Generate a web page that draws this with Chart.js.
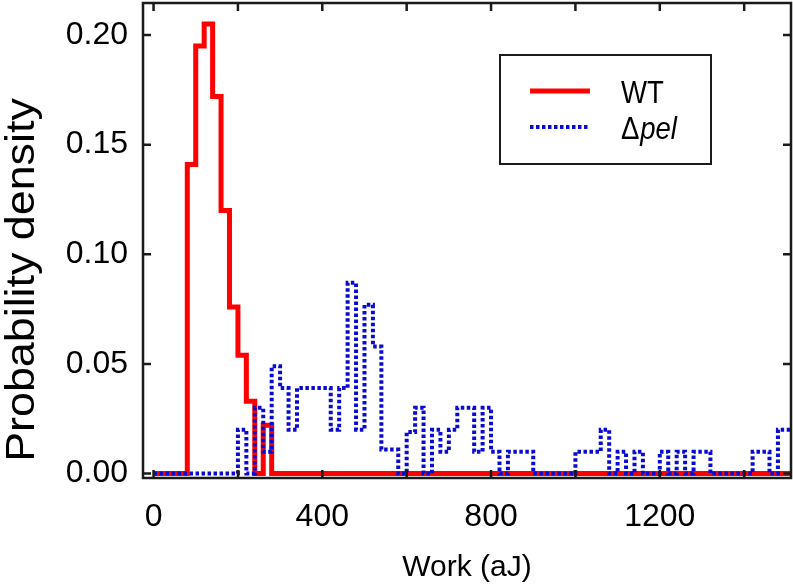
<!DOCTYPE html>
<html>
<head>
<meta charset="utf-8">
<script src="https://cdn.jsdelivr.net/npm/chart.js@4.4.1/dist/chart.umd.min.js"></script>
<style>
  html, body { margin: 0; padding: 0; background: #fff; }
  #wrap { width: 793px; height: 585px; }
</style>
</head>
<body>
<div id="wrap"><canvas id="myChart" width="793" height="585"></canvas></div>
<script>
// histogram bins are 20 aJ wide, first bin starts at 0 aJ
const binStart = 0
const binWidth = 20
const xEnd = 1511

// WT, probability density per bin
const wtDensity = [
    0, 0, 0, 0, 0.141, 0.195, 0.205, 0.172, 0.120, 0.076,
    0.054, 0.033, 0, 0.022, 0, 0, 0, 0, 0, 0,
    0, 0, 0, 0, 0, 0, 0, 0, 0, 0,
    0, 0, 0, 0, 0, 0, 0, 0, 0, 0,
    0, 0, 0, 0, 0, 0, 0, 0, 0, 0,
    0, 0, 0, 0, 0, 0, 0, 0, 0, 0,
    0, 0, 0, 0, 0, 0, 0, 0, 0, 0,
    0, 0, 0, 0, 0, 0,
]

// delta pel, probability density per bin
const pelDensity = [
    0, 0, 0, 0, 0, 0, 0, 0, 0, 0,
    0.020, 0, 0.030, 0.010, 0.049, 0.039, 0.020, 0.039, 0.039, 0.039,
    0.039, 0.020, 0.039, 0.087, 0.020, 0.077, 0.058, 0.011, 0.011, 0,
    0.019, 0.030, 0, 0.020, 0.010, 0.020, 0.030, 0.030, 0.010, 0.030,
    0.010, 0, 0.010, 0.010, 0.010, 0, 0, 0, 0, 0,
    0.010, 0.010, 0.010, 0.020, 0, 0.010, 0, 0.010, 0, 0,
    0.010, 0, 0.010, 0, 0.010, 0.010, 0, 0, 0, 0,
    0, 0.010, 0.010, 0, 0.020, 0.020,
]

const xTicks = [0, 200, 400, 600, 800, 1000, 1200, 1400]
const xTickLabels = ['0', '', '400', '', '800', '', '1200', '']
const yTicks = [0, 0.05, 0.10, 0.15, 0.20]
const yTickLabels = ['0.00', '0.05', '0.10', '0.15', '0.20']
const yTitle = 'Probability density'

const FONT_FAMILY = '"Liberation Sans", Arial, sans-serif'

function stepPoints(values) {
    const pts = values.map((v, i) => ({ x: binStart + i * binWidth, y: v }))
    pts.push({ x: xEnd, y: values[values.length - 1] })
    return pts
}

// box around the plot with inward ticks on all four sides
const framePlugin = {
    id: 'frame',
    afterDatasetsDraw(chart) {
        const { ctx, chartArea: a, scales } = chart
        const len = 8
        ctx.save()
        ctx.strokeStyle = '#1a1a1a'
        ctx.lineWidth = 2.5
        ctx.strokeRect(a.left, a.top, a.right - a.left, a.bottom - a.top)
        ctx.beginPath()
        xTicks.forEach(v => {
            const px = scales.x.getPixelForValue(v)
            ctx.moveTo(px, a.bottom); ctx.lineTo(px, a.bottom - len)
            ctx.moveTo(px, a.top); ctx.lineTo(px, a.top + len)
        })
        yTicks.forEach(v => {
            const py = scales.y.getPixelForValue(v)
            ctx.moveTo(a.left, py); ctx.lineTo(a.left + len, py)
            ctx.moveTo(a.right, py); ctx.lineTo(a.right - len, py)
        })
        ctx.stroke()
        ctx.restore()
    },
}

// the y title in the figure is drawn large and runs along most of the axis
const yTitlePlugin = {
    id: 'yTitle',
    afterDraw(chart) {
        const { ctx } = chart
        ctx.save()
        ctx.translate(23, 280)
        ctx.rotate(-Math.PI / 2)
        ctx.scale(1.12, 1)
        ctx.font = '40px ' + FONT_FAMILY
        ctx.fillStyle = '#000'
        ctx.textAlign = 'center'
        ctx.textBaseline = 'middle'
        ctx.fillText(yTitle, 0, 0)
        ctx.restore()
    },
}

// boxed legend inside the plot, Δ upright and "pel" in italics
const legendPlugin = {
    id: 'boxLegend',
    afterDraw(chart) {
        const { ctx } = chart
        const ds = chart.data.datasets
        ctx.save()
        ctx.fillStyle = '#fff'
        ctx.fillRect(500, 55, 211, 109)
        ctx.strokeStyle = '#1a1a1a'
        ctx.lineWidth = 2
        ctx.strokeRect(500, 55, 211, 109)

        ctx.lineWidth = ds[0].borderWidth
        ctx.strokeStyle = ds[0].borderColor
        ctx.beginPath(); ctx.moveTo(530, 91); ctx.lineTo(590, 91); ctx.stroke()

        ctx.lineWidth = ds[1].borderWidth
        ctx.strokeStyle = ds[1].borderColor
        ctx.setLineDash(ds[1].borderDash)
        ctx.beginPath(); ctx.moveTo(530, 127); ctx.lineTo(590, 127); ctx.stroke()
        ctx.setLineDash([])

        // the lettering in the figure is a little condensed
        ctx.fillStyle = '#000'
        ctx.textBaseline = 'alphabetic'
        ctx.translate(621, 0)
        ctx.scale(0.86, 1)
        ctx.font = '32px ' + FONT_FAMILY
        ctx.fillText('WT', 0, 103)
        ctx.fillText('\u0394', 0, 139)
        const w = ctx.measureText('\u0394').width
        ctx.font = 'italic 32px ' + FONT_FAMILY
        ctx.fillText(ds[1].label.slice(1), w + 1, 139)
        ctx.restore()
    },
}

function render_chart() {
    const tickFont = { family: FONT_FAMILY, size: 32 }
    const titleFont = { family: FONT_FAMILY, size: 30, lineHeight: 1.0 }
    const data = {
        datasets: [
            {
                label: 'WT',
                data: stepPoints(wtDensity),
                borderColor: '#ff0000',
                borderWidth: 5,
                stepped: 'before',
                pointRadius: 0,
                order: 1,
            },
            {
                label: '\u0394pel',
                data: stepPoints(pelDensity),
                borderColor: '#0a0ad0',
                borderWidth: 4,
                borderDash: [3.5, 2.5],
                stepped: 'before',
                pointRadius: 0,
                order: 0,
            },
        ],
    }
    const config = {
        type: 'line',
        data: data,
        options: {
            responsive: false,
            animation: false,
            layout: { padding: { top: 3, right: 2, left: 0, bottom: 0 } },
            plugins: { legend: { display: false }, tooltip: { enabled: false } },
            scales: {
                x: {
                    type: 'linear',
                    min: -25,
                    max: xEnd,
                    afterFit: s => {
                        s.height = 107
                        s.paddingLeft = 0
                        s.paddingRight = 0
                    },
                    afterBuildTicks: s => { s.ticks = xTicks.map(v => ({ value: v })) },
                    grid: { display: false, drawTicks: false },
                    border: { display: false },
                    ticks: {
                        callback: (v, i) => xTickLabels[i],
                        font: tickFont,
                        color: '#000',
                        padding: 20,
                        maxRotation: 0,
                        autoSkip: false,
                    },
                    title: {
                        display: true,
                        text: 'Work (aJ)',
                        font: titleFont,
                        color: '#000',
                        padding: { top: 0, bottom: 2 },
                    },
                },
                y: {
                    min: -0.002,
                    max: 0.2146,
                    afterFit: s => {
                        s.width = 143
                        s.paddingTop = 0
                        s.paddingBottom = 0
                    },
                    afterBuildTicks: s => { s.ticks = yTicks.map(v => ({ value: v })) },
                    grid: { display: false, drawTicks: false },
                    border: { display: false },
                    ticks: {
                        callback: (v, i) => yTickLabels[i],
                        font: tickFont,
                        color: '#000',
                        padding: 15,
                        autoSkip: false,
                    },
                    title: { display: false },
                },
            },
        },
        plugins: [framePlugin, yTitlePlugin, legendPlugin],
    }
    const myChart = new Chart(document.getElementById('myChart'), config)
}
document.addEventListener('DOMContentLoaded', render_chart)
</script>
</body>
</html>
